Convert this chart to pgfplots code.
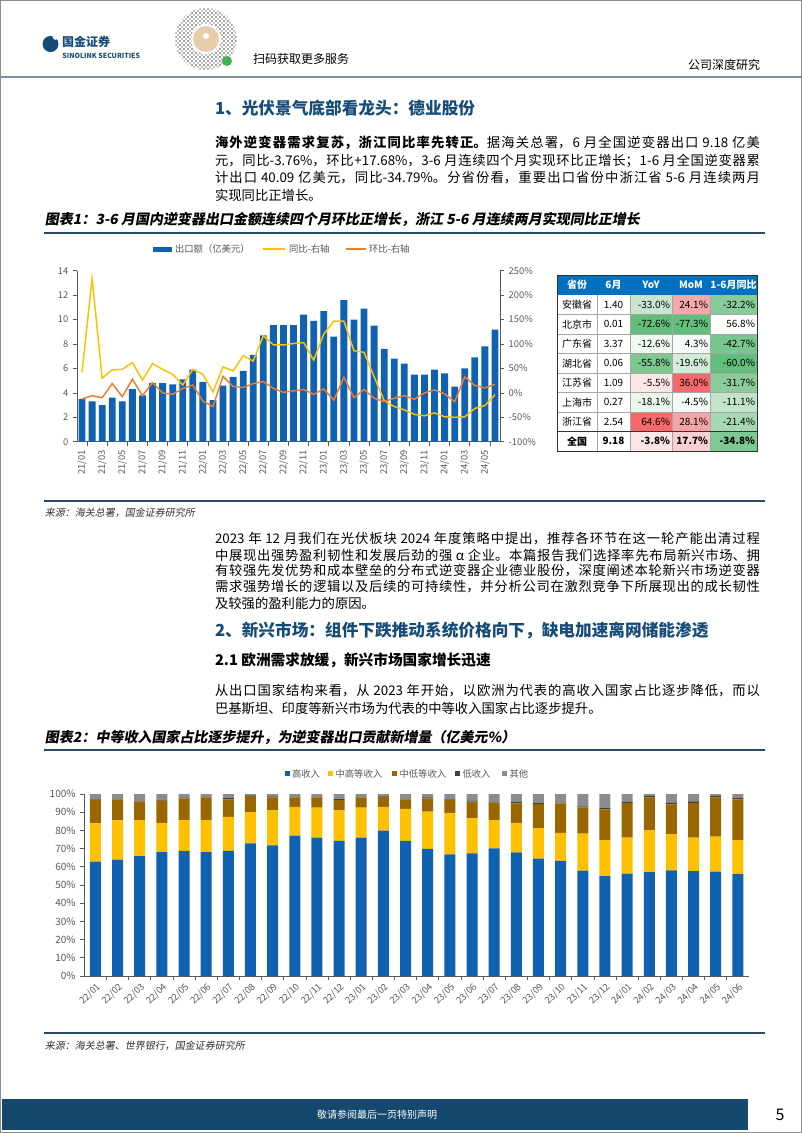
\documentclass[border=0pt]{standalone}
\usepackage{fontspec}
\setmainfont{Noto Sans CJK SC}
\newfontfamily\capfont[FakeSlant=0.18]{Noto Sans CJK SC}
\usepackage{pgfplots}
\usepackage{pgfplotstable}
\pgfplotsset{compat=1.18}
\usetikzlibrary{patterns}
\XeTeXlinebreaklocale "zh"
\XeTeXlinebreakskip=0pt plus 1.5pt minus 0.3pt

\definecolor{hblue}{RGB}{16,97,176}
\definecolor{cyel}{RGB}{255,192,0}
\definecolor{corg}{RGB}{237,125,49}
\definecolor{cbrown}{RGB}{153,102,0}
\definecolor{cdark}{RGB}{64,64,64}
\definecolor{cgray}{RGB}{140,140,140}
\definecolor{navy}{RGB}{24,76,120}
\definecolor{tickgray}{RGB}{89,89,89}
\definecolor{footblue}{RGB}{20,72,108}
\definecolor{capline}{RGB}{38,74,104}
\definecolor{hdrline}{RGB}{130,145,160}
\definecolor{qrbeige}{RGB}{232,204,172}
\definecolor{qrgreen}{RGB}{70,175,80}
\definecolor{hdr}{RGB}{0,112,192}
\definecolor{gA}{RGB}{99,190,123}
\definecolor{ahY}{RGB}{200,230,207}\definecolor{ahM}{RGB}{245,168,169}\definecolor{ahH}{RGB}{134,203,152}
\definecolor{gdY}{RGB}{240,248,242}\definecolor{gdM}{RGB}{246,251,247}\definecolor{gdH}{RGB}{122,198,143}
\definecolor{hbY}{RGB}{127,199,145}\definecolor{hbM}{RGB}{210,236,216}
\definecolor{jsY}{RGB}{252,230,230}\definecolor{jsM}{RGB}{248,105,107}\definecolor{jsH}{RGB}{138,204,156}
\definecolor{shY}{RGB}{234,245,236}\definecolor{shM}{RGB}{243,249,244}\definecolor{shH}{RGB}{194,228,202}
\definecolor{zjY}{RGB}{248,105,107}\definecolor{zjM}{RGB}{245,163,164}\definecolor{zjH}{RGB}{166,217,178}
\definecolor{qgY}{RGB}{251,229,229}\definecolor{qgM}{RGB}{249,208,209}\definecolor{qgH}{RGB}{128,200,147}

\pgfplotstableread{
i e y m
0 3.5 42 -12.7
1 3.3 234 -5.8
2 3.0 30 -10
3 3.6 47 19
4 3.3 48 -8
5 4.3 62 28
6 3.8 26 -6
7 4.8 60 21
8 4.8 48 0
9 4.7 38 -3
10 5.1 16 9
11 5.9 48 16
12 4.9 38 -17
13 3.4 2 -28
14 4.6 53 34
15 5.3 45 13
16 5.8 76 11
17 7.1 65 19
18 8.7 117 23
19 9.55 98 9
20 9.55 98 1
21 9.55 101 4
22 10.4 103 7
23 9.9 67 -3
24 10.7 120 8
25 8.6 147 -15
26 11.6 147 32
27 10.0 86 -10
28 10.9 83 7
29 9.5 33 -11
30 7.6 -16 -18
31 6.8 -28 -11
32 6.4 -35 -6
33 5.5 -44 -13
34 5.5 -47 0
35 5.9 -41 6
36 5.6 -49 -2
37 4.5 -50 -18
38 6.0 -49 33
39 6.9 -32 15
40 7.8 -26 10
41 9.18 -3.8 17.7
}\dA

\pgfplotstableread{
i h um lm l o
0 62.8 21.1 12.8 0.3 3.0
1 63.9 21.6 11.6 0.3 2.6
2 65.9 19.8 10.3 0.3 3.7
3 68.1 16.1 12.1 0.3 3.4
4 68.7 17.0 11.9 0.3 2.1
5 68.1 17.6 12.5 0.3 1.5
6 68.7 18.7 9.7 0.6 2.3
7 72.9 17.2 8.8 0.3 0.8
8 71.8 19.4 7.0 0.5 1.3
9 77.1 15.8 5.3 0.3 1.5
10 76.0 16.5 5.7 0.3 1.5
11 74.2 16.8 5.7 0.5 2.8
12 76.0 16.5 5.7 0.3 1.5
13 79.9 13.1 5.5 0.3 1.2
14 74.2 17.6 5.3 0.4 2.5
15 69.8 20.5 7.3 0.5 1.9
16 66.8 22.9 7.0 0.3 3.0
17 67.4 19.2 9.2 0.4 3.8
18 70.1 15.6 9.7 0.4 4.2
19 67.9 16.3 10.7 0.6 4.5
20 64.5 16.8 13.2 0.5 5.0
21 63.2 15.4 16.3 0.4 4.7
22 57.9 20.3 14.5 0.5 6.8
23 54.9 19.8 16.9 0.7 7.7
24 56.2 19.8 19.2 0.4 4.4
25 57.1 23.1 18.0 0.6 1.2
26 58.1 19.9 16.3 0.8 4.9
27 57.7 18.3 19.2 0.7 4.1
28 57.3 19.3 21.6 0.6 1.2
29 56.0 18.7 22.4 0.6 2.3
}\dB

\newcommand\jl[1]{\parbox{408.75pt}{\parfillskip=0pt\relax #1\par}}
\newcommand\trow[9]{%
 \fill[#5] (630,#1) rectangle (672,#1+19.5);
 \fill[#7] (672,#1) rectangle (710,#1+19.5);
 \fill[#9] (710,#1) rectangle (757,#1+19.5);
 \node[t] at (577,#1+9.75) {#2};
 \node[t] at (613.5,#1+9.75) {#3};
 \node[t,anchor=east] at (670,#1+9.75) {#4};
 \node[t,anchor=east] at (708,#1+9.75) {#6};
 \node[t,anchor=east] at (755,#1+9.75) {#8};
}

\begin{document}
\begin{tikzpicture}
\path[use as bounding box] (0,0) rectangle (601.5pt,-849.75pt);
\begin{scope}[x=0.75pt,y=-0.75pt,t/.style={inner sep=0pt,outer sep=0pt}]
\fill[white] (0,0) rectangle (802,1133);
\draw[black!45,line width=0.8pt] (0.5,0.5) rectangle (801.5,1132.5);
% header
\fill[navy] (50.5,44) circle (8);
\fill[white] (55.5,37) circle (2.8);
\node[t,anchor=west,text=navy,font=\bfseries\fontsize{9}{10}\selectfont] at (62,42) {国金证券};
\node[t,anchor=west,text=navy,font=\bfseries\fontsize{5.2}{6}\selectfont] at (62.5,55.5) {SINOLINK SECURITIES};
\fill[pattern=crosshatch dots,pattern color=black] (206,39) circle (31);
\fill[pattern=dots,pattern color=black!80] (206,39) circle (30);
\fill[white] (206,39) circle (15);
\fill[qrbeige] (206,39) circle (13);
\fill[white] (206,36) circle (3);
\fill[qrgreen] (227,61) circle (5);
\node[t,anchor=west,font=\fontsize{9}{10}\selectfont] at (253,59) {扫码获取更多服务};
\node[t,anchor=east,font=\fontsize{9}{10}\selectfont] at (760,65) {公司深度研究};
\draw[hdrline,line width=1.5pt] (0,76.5) -- (802,76.5);
% section 1
\node[t,anchor=west,text=navy,font=\bfseries\fontsize{12.5}{14}\selectfont] at (215,108) {1、光伏景气底部看龙头：德业股份};
\begin{scope}[every node/.style={t,anchor=west,font=\fontsize{10}{12}\selectfont}]
\node at (215,143) {\jl{\textbf{海外逆变器需求复苏，浙江同比率先转正。}据海关总署，6 月全国逆变器出口 9.18 亿美}};
\node at (215,160.5) {\jl{元，同比-3.76\%，环比+17.68\%，3-6 月连续四个月实现环比正增长；1-6 月全国逆变器累}};
\node at (215,178) {\jl{计出口 40.09 亿美元，同比-34.79\%。分省份看，重要出口省份中浙江省 5-6 月连续两月}};
\node at (215,195) {实现同比正增长。};
\end{scope}
\node[t,anchor=west,font=\capfont\bfseries\fontsize{10.5}{12}\selectfont] at (45,219) {图表1：3-6 月国内逆变器出口金额连续四个月环比正增长，浙江 5-6 月连续两月实现同比正增长};
\draw[capline,line width=1.5pt] (44,232.5) -- (765,232.5);
% chart 1 legend
\begin{scope}[every node/.style={t,anchor=west,font=\fontsize{7}{8}\selectfont,text=tickgray}]
\fill[hblue] (153,246.5) rectangle (172,251.5);
\node at (175,249) {出口额（亿美元）};
\draw[cyel,line width=1.2pt] (263,249) -- (285,249);
\node at (289,249) {同比-右轴};
\draw[corg,line width=1.2pt] (346,249) -- (366,249);
\node at (369,249) {环比-右轴};
\end{scope}
% table
\fill[hdr] (557,275) rectangle (757,295);
\begin{scope}[every node/.style={t,font=\bfseries\fontsize{7.5}{9}\selectfont,text=white}]
\node at (577,285) {省份};
\node at (613.5,285) {6月};
\node at (651,285) {YoY};
\node at (691,285) {MoM};
\node at (733.5,285) {1-6月同比};
\end{scope}
\begin{scope}[every node/.style={t,font=\fontsize{7.5}{9}\selectfont}]
\trow{295}{安徽省}{1.40}{-33.0\%}{ahY}{24.1\%}{ahM}{-32.2\%}{ahH}
\trow{314.5}{北京市}{0.01}{-72.6\%}{gA}{-77.3\%}{gA}{56.8\%}{white}
\trow{334}{广东省}{3.37}{-12.6\%}{gdY}{4.3\%}{gdM}{-42.7\%}{gdH}
\trow{353.5}{湖北省}{0.06}{-55.8\%}{hbY}{-19.6\%}{hbM}{-60.0\%}{gA}
\trow{373}{江苏省}{1.09}{-5.5\%}{jsY}{36.0\%}{jsM}{-31.7\%}{jsH}
\trow{392.5}{上海市}{0.27}{-18.1\%}{shY}{-4.5\%}{shM}{-11.1\%}{shH}
\trow{412}{浙江省}{2.54}{64.6\%}{zjY}{28.1\%}{zjM}{-21.4\%}{zjH}
\end{scope}
\begin{scope}[every node/.style={t,font=\bfseries\fontsize{7.5}{9}\selectfont}]
\trow{431.5}{全国}{9.18}{-3.8\%}{qgY}{17.7\%}{qgM}{-34.8\%}{qgH}
\end{scope}
\foreach \yy in {314.5,334,353.5,373,392.5,412} \draw[black!35,line width=0.4pt] (557,\yy) -- (757,\yy);
\foreach \xx in {597,630,672,710} \draw[black!35,line width=0.4pt] (\xx,295) -- (\xx,451);
\draw[black!80,line width=0.6pt] (557,431.5) -- (757,431.5);
\draw[black!80,line width=0.6pt] (557,275) rectangle (757,451);
% source 1
\draw[capline,line width=1.2pt] (44,501) -- (765,501);
\node[t,anchor=west,font=\capfont\fontsize{7.5}{9}\selectfont,text=black!80] at (45,513) {来源：海关总署，国金证券研究所};
% para 2
\begin{scope}[every node/.style={t,anchor=west,font=\fontsize{10}{12}\selectfont}]
\node at (215,539) {\jl{2023 年 12 月我们在光伏板块 2024 年度策略中提出，推荐各环节在这一轮产能出清过程}};
\node at (215,555) {\jl{中展现出强势盈利韧性和发展后劲的强 α 企业。本篇报告我们选择率先布局新兴市场、拥}};
\node at (215,571) {\jl{有较强先发优势和成本壁垒的分布式逆变器企业德业股份，深度阐述本轮新兴市场逆变器}};
\node at (215,587) {\jl{需求强势增长的逻辑以及后续的可持续性，并分析公司在激烈竞争下所展现出的成长韧性}};
\node at (215,603) {及较强的盈利能力的原因。};
\end{scope}
\node[t,anchor=west,text=navy,font=\bfseries\fontsize{12.5}{14}\selectfont] at (215,631) {2、新兴市场：组件下跌推动系统价格向下，缺电加速离网储能渗透};
\node[t,anchor=west,font=\bfseries\fontsize{11}{12}\selectfont] at (215,660) {2.1 欧洲需求放缓，新兴市场国家增长迅速};
\begin{scope}[every node/.style={t,anchor=west,font=\fontsize{10}{12}\selectfont}]
\node at (215,691) {\jl{从出口国家结构来看，从 2023 年开始，以欧洲为代表的高收入国家占比逐步降低，而以}};
\node at (215,708) {巴基斯坦、印度等新兴市场为代表的中等收入国家占比逐步提升。};
\end{scope}
\node[t,anchor=west,font=\capfont\bfseries\fontsize{10.5}{12}\selectfont] at (45,737) {图表2：中等收入国家占比逐步提升，为逆变器出口贡献新增量（亿美元\%）};
\draw[capline,line width=1.5pt] (44,750) -- (765,750);
% chart 2 legend
\begin{scope}[every node/.style={t,anchor=west,font=\fontsize{7}{8}\selectfont,text=tickgray}]
\fill[hblue] (284.5,771) rectangle (289.5,776);
\node at (292,773.5) {高收入};
\fill[cyel] (328,771) rectangle (333,776);
\node at (335.5,773.5) {中高等收入};
\fill[cbrown] (392,771) rectangle (397,776);
\node at (399.5,773.5) {中低等收入};
\fill[cdark] (455,771) rectangle (460,776);
\node at (462.5,773.5) {低收入};
\fill[cgray] (502,771) rectangle (507,776);
\node at (509.5,773.5) {其他};
\end{scope}
% source 2
\draw[capline,line width=1.2pt] (44,1033) -- (765,1033);
\node[t,anchor=west,font=\capfont\fontsize{7.5}{9}\selectfont,text=black!80] at (45,1046) {来源：海关总署、世界银行，国金证券研究所};
% footer
\fill[footblue] (2,1099) rectangle (748,1130);
\node[t,font=\fontsize{7.5}{9}\selectfont,text=white] at (377,1114.5) {敬请参阅最后一页特别声明};
\node[t,font=\fontsize{12}{14}\selectfont] at (780,1114.5) {5};
\end{scope}

% chart 1 : bars, left axis
\begin{axis}[at={(57.75pt,-331.275pt)},anchor=south west,scale only axis,
 width=317.25pt,height=128.25pt,
 xmin=-0.5,xmax=41.5,ymin=0,ymax=14,
 axis x line*=bottom,axis y line*=left,
 axis line style={draw=black!65,line width=0.6pt},
 xtick={0,2,...,40},
 xticklabels={21/01,21/03,21/05,21/07,21/09,21/11,22/01,22/03,22/05,22/07,22/09,22/11,23/01,23/03,23/05,23/07,23/09,23/11,24/01,24/03,24/05},
 major x tick style={draw=none},
 minor xtick={0.5,2.5,...,40.5},
 minor tick length=3pt,major tick length=3pt,
 tick align=outside,
 tick style={draw=black!65,line width=0.5pt},
 ytick={0,2,...,14},
 ticklabel style={font=\fontsize{7}{8}\selectfont,text=tickgray},
 x tick label style={rotate=90,anchor=east},
 /pgf/number format/assume math mode=true,
 clip=false]
\addplot[ybar,bar width=5.1pt,bar shift=0pt,fill=hblue,draw=none] table[x=i,y=e]{\dA};
\end{axis}
% chart 1 : lines, right axis
\begin{axis}[at={(57.75pt,-331.275pt)},anchor=south west,scale only axis,
 width=317.25pt,height=128.25pt,
 xmin=-0.5,xmax=41.5,ymin=-100,ymax=250,
 axis y line*=right,axis x line=none,
 axis line style={draw=black!65,line width=0.6pt},
 ytick={-100,-50,...,250},
 yticklabel={\pgfmathprintnumber{\tick}\%},
 major tick length=3pt,tick align=outside,
 tick style={draw=black!65,line width=0.5pt},
 ticklabel style={font=\fontsize{7}{8}\selectfont,text=tickgray},
 /pgf/number format/assume math mode=true]
\addplot[cyel,line width=1.1pt,no marks] table[x=i,y=y]{\dA};
\addplot[corg,line width=1.1pt,no marks] table[x=i,y=m]{\dA};
\end{axis}
% chart 2
\begin{axis}[at={(63.225pt,-732pt)},anchor=south west,scale only axis,
 width=498.5pt,height=136.5pt,
 ybar stacked,bar width=8.25pt,
 xmin=-0.5,xmax=29.5,ymin=0,ymax=100,
 axis x line*=bottom,axis y line*=left,
 axis line style={draw=black!65,line width=0.6pt},
 xtick={0,...,29},
 xticklabels={22/01,22/02,22/03,22/04,22/05,22/06,22/07,22/08,22/09,22/10,22/11,22/12,23/01,23/02,23/03,23/04,23/05,23/06,23/07,23/08,23/09,23/10,23/11,23/12,24/01,24/02,24/03,24/04,24/05,24/06},
 major x tick style={draw=none},
 minor xtick={0.5,1.5,...,28.5},
 minor tick length=3pt,major tick length=3pt,
 tick align=outside,
 tick style={draw=black!65,line width=0.5pt},
 ytick={0,10,...,100},
 yticklabel={\pgfmathprintnumber{\tick}\%},
 yticklabel style={font=\fontsize{7.5}{8}\selectfont,text=tickgray},
 xticklabel style={font=\fontsize{7}{8}\selectfont,text=tickgray,rotate=45,anchor=north east,inner sep=1pt},
 /pgf/number format/assume math mode=true]
\addplot[fill=hblue,draw=none] table[x=i,y=h]{\dB};
\addplot[fill=cyel,draw=none] table[x=i,y=um]{\dB};
\addplot[fill=cbrown,draw=none] table[x=i,y=lm]{\dB};
\addplot[fill=cdark,draw=none] table[x=i,y=l]{\dB};
\addplot[fill=cgray,draw=none] table[x=i,y=o]{\dB};
\end{axis}
\end{tikzpicture}
\end{document}
